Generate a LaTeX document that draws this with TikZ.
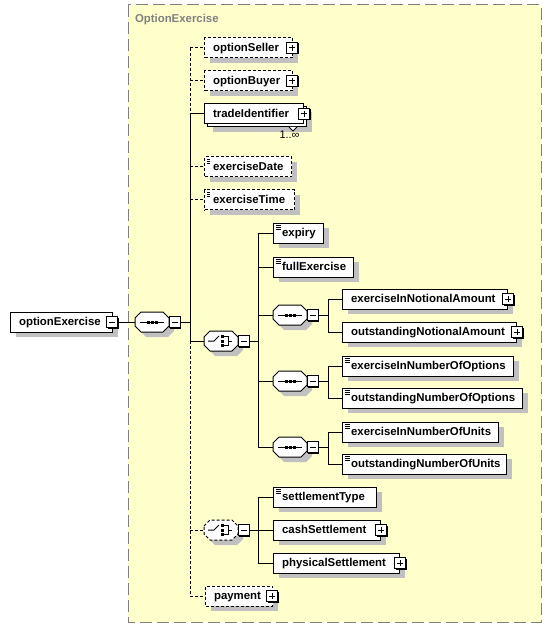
\documentclass[tikz,border=0pt]{standalone}
\usepackage{fontspec}
\setmainfont{Liberation Sans}
\usetikzlibrary{calc}
\definecolor{bgyellow}{RGB}{255,255,204}
\definecolor{framegray}{RGB}{128,128,128}
\definecolor{shadowgray}{RGB}{192,192,192}
\tikzset{
  dashline/.style={dash pattern=on 3pt off 2pt},
  elbase/.style={draw, fill=white, rectangle, anchor=west, minimum height=20pt,
    inner ysep=0pt, inner xsep=8.6pt, align=left, text height=8.5pt, text depth=1pt,
    font=\fontsize{11.4}{13}\selectfont\bfseries},
  el/.style={elbase, preaction={fill=shadowgray, transform canvas={shift={(5pt,-5pt)}}}},
  elstack/.style={elbase,
    preaction={fill=shadowgray, transform canvas={shift={(8pt,-8pt)}}},
    preaction={draw, fill=white, transform canvas={shift={(3pt,-3pt)}}}},
  doc/.style={path picture={
    \foreach \d in {2,4,6}
      \draw[line width=0.8pt] ([shift={(2pt,-\d pt)}]path picture bounding box.north west) -- ++(5pt,0pt);}},
  pmbox/.style={draw, fill=white, minimum size=11pt, inner sep=0pt,
    preaction={fill=black, transform canvas={shift={(1pt,-1pt)}}}},
  minusbox/.style={pmbox, path picture={
    \draw[line width=1pt] ([xshift=2.5pt]path picture bounding box.west) -- ([xshift=-2.5pt]path picture bounding box.east);}},
  plusbox/.style={pmbox, path picture={
    \draw[line width=1pt] ([xshift=2.5pt]path picture bounding box.west) -- ([xshift=-2.5pt]path picture bounding box.east);
    \draw[line width=1pt] ([yshift=-2.5pt]path picture bounding box.north) -- ([yshift=2.5pt]path picture bounding box.south);}},
  compnode/.style={inner sep=0pt, minimum width=34pt, minimum height=20pt},
  title/.style={anchor=base west, inner sep=0pt, text=framegray, font=\fontsize{11.4}{13}\selectfont\bfseries},
  occ/.style={anchor=base west, inner sep=0pt, font=\fontsize{11}{12}\selectfont}
}
\newcommand\compo[4]{%
  \fill[shadowgray] (#2-12,#3+1) -- ++(6,-6) -- ++(22,0) -- ++(6,6) -- ++(0,8) -- ++(-6,6) -- ++(-22,0) -- ++(-6,-6) -- cycle;
  \draw[fill=white,#4] (#2-17,#3-4) -- ++(6,-6) -- ++(22,0) -- ++(6,6) -- ++(0,8) -- ++(-6,6) -- ++(-22,0) -- ++(-6,-6) -- cycle;
  \node[compnode] (#1) at (#2,#3) {};
}
\newcommand\seqicon[2]{%
  \draw (#1-12,#2) -- (#1+12,#2);
  \fill (#1-5.5,#2-1.5) rectangle ++(3,3);
  \fill (#1-1.5,#2-1.5) rectangle ++(3,3);
  \fill (#1+2.5,#2-1.5) rectangle ++(3,3);
}
\newcommand\choiceicon[2]{%
  \draw (#1-13,#2) -- (#1-7,#2) -- (#1-2,#2-5);
  \fill (#1,#2-6) rectangle ++(3,3);
  \fill (#1,#2-1.5) rectangle ++(3,3);
  \fill (#1,#2+3) rectangle ++(3,3);
  \draw (#1+3,#2-4.5) -- (#1+7,#2-4.5) -- (#1+7,#2+4.5) -- (#1+3,#2+4.5);
  \draw (#1+7,#2) -- (#1+11,#2);
}
\begin{document}
\begin{tikzpicture}[x=1pt,y=-1pt,line width=1pt]
\useasboundingbox (0,0) rectangle (551,628);
\fill[bgyellow] (128,5) rectangle (541,622);
\draw[framegray, dash pattern=on 12pt off 5pt] (128,5) rectangle (541,622);
\node[title] (ttl) at (134.5,23) {OptionExercise};

% root
\node[el, text width=85pt] (root) at (10,322) {optionExercise};
\node[minusbox] (root-pm) at (112,322) {};

% main sequence
\compo{seq0}{152}{322}{}
\seqicon{152}{322}
\node[minusbox] (seq0-pm) at (174.5,322) {};

% main children
\node[el, dashline, text width=71pt] (seller) at (204,48) {optionSeller};
\node[plusbox] (seller-pm) at (292,48) {};
\node[el, dashline, text width=71pt] (buyer) at (204,81) {optionBuyer};
\node[plusbox] (buyer-pm) at (292,81) {};
\node[elstack, text width=82pt] (tradeId) at (204,114) {tradeIdentifier};
\node[plusbox] (tradeId-pm) at (304,114) {};
\draw[fill=white, line width=0.8pt] (289,127) -- (293,131) -- (297,127);
\node[occ] (tradeId-occ) at (279,138.5) {1..∞};
\node[el, dashline, doc, text width=70pt] (exDate) at (204,167) {exerciseDate};
\node[el, dashline, doc, text width=73pt] (exTime) at (204,200) {exerciseTime};

% choice 1
\compo{ch1}{221}{341}{}
\choiceicon{221}{341}
\node[minusbox] (ch1-pm) at (243.5,341) {};

\node[el, doc, text width=33pt] (expiry) at (273,233) {expiry};
\node[el, doc, text width=63pt] (fullEx) at (273,267) {fullExercise};

\compo{seq1}{290}{315}{}
\seqicon{290}{315}
\node[minusbox] (seq1-pm) at (312.5,315) {};
\compo{seq2}{290}{381}{}
\seqicon{290}{381}
\node[minusbox] (seq2-pm) at (312.5,381) {};
\compo{seq3}{290}{447}{}
\seqicon{290}{447}
\node[minusbox] (seq3-pm) at (312.5,447) {};

\node[el, text width=148pt] (eINA) at (342,299) {exerciseInNotionalAmount};
\node[plusbox] (eINA-pm) at (508,299) {};
\node[el, text width=157pt] (oNA) at (342,332) {outstandingNotionalAmount};
\node[plusbox] (oNA-pm) at (517,332) {};
\node[el, doc, text width=154pt] (eINO) at (342,366) {exerciseInNumberOfOptions};
\node[el, doc, text width=163pt] (oNO) at (342,398) {outstandingNumberOfOptions};
\node[el, doc, text width=139pt] (eINU) at (342,432) {exerciseInNumberOfUnits};
\node[el, doc, text width=147pt] (oNU) at (342,464) {outstandingNumberOfUnits};

% choice 2
\compo{ch2}{221}{530}{dashline}
\choiceicon{221}{530}
\node[minusbox] (ch2-pm) at (243.5,530) {};
\node[el, doc, text width=86pt] (settlType) at (273,497) {settlementType};
\node[el, text width=90pt] (cashSettl) at (273,530) {cashSettlement};
\node[plusbox] (cashSettl-pm) at (381,530) {};
\node[el, text width=109pt] (physSettl) at (273,563) {physicalSettlement};
\node[plusbox] (physSettl-pm) at (400,563) {};

\node[el, dashline, text width=50pt] (payment) at (205,596) {payment};
\node[plusbox] (payment-pm) at (272,596) {};

% connectors
\coordinate (j0) at (190,322);
\coordinate (j1) at (258,341);
\coordinate (j2) at (328,315);
\coordinate (j3) at (328,381);
\coordinate (j4) at (328,447);
\coordinate (j5) at (258,530);

\draw (root-pm.east) -- (seq0.west);
\draw (seq0-pm.east) -- (j0);
\draw[dashline] (j0 |- seller.west) -- (j0 |- tradeId.west);
\draw (j0 |- tradeId.west) -- (j0 |- ch1.west);
\draw[dashline] (j0 |- ch1.west) -- (j0 |- payment.west);
\draw[dashline] (j0 |- seller.west) -- (seller.west);
\draw[dashline] (j0 |- buyer.west) -- (buyer.west);
\draw (j0 |- tradeId.west) -- (tradeId.west);
\draw[dashline] (j0 |- exDate.west) -- (exDate.west);
\draw[dashline] (j0 |- exTime.west) -- (exTime.west);
\draw (j0 |- ch1.west) -- (ch1.west);
\draw[dashline] (j0 |- ch2.west) -- (ch2.west);
\draw[dashline] (j0 |- payment.west) -- (payment.west);

\draw (ch1-pm.east) -- (j1);
\draw (j1 |- expiry.west) -- (j1 |- seq3.west);
\draw (j1 |- expiry.west) -- (expiry.west);
\draw (j1 |- fullEx.west) -- (fullEx.west);
\draw (j1 |- seq1.west) -- (seq1.west);
\draw (j1 |- seq2.west) -- (seq2.west);
\draw (j1 |- seq3.west) -- (seq3.west);

\draw (seq1-pm.east) -- (j2);
\draw (j2 |- eINA.west) -- (j2 |- oNA.west);
\draw (j2 |- eINA.west) -- (eINA.west);
\draw (j2 |- oNA.west) -- (oNA.west);

\draw (seq2-pm.east) -- (j3);
\draw (j3 |- eINO.west) -- (j3 |- oNO.west);
\draw (j3 |- eINO.west) -- (eINO.west);
\draw (j3 |- oNO.west) -- (oNO.west);

\draw (seq3-pm.east) -- (j4);
\draw (j4 |- eINU.west) -- (j4 |- oNU.west);
\draw (j4 |- eINU.west) -- (eINU.west);
\draw (j4 |- oNU.west) -- (oNU.west);

\draw (ch2-pm.east) -- (j5);
\draw (j5 |- settlType.west) -- (j5 |- physSettl.west);
\draw (j5 |- settlType.west) -- (settlType.west);
\draw (j5 |- cashSettl.west) -- (cashSettl.west);
\draw (j5 |- physSettl.west) -- (physSettl.west);
\end{tikzpicture}
\end{document}
